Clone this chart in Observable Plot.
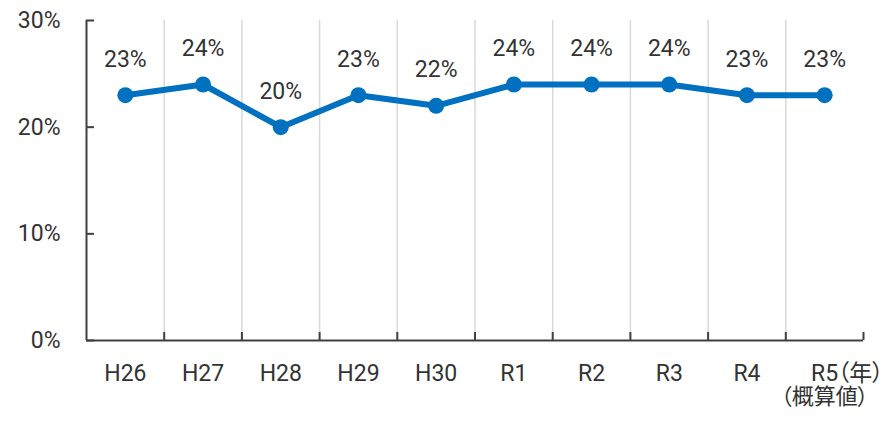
<!DOCTYPE html>
<html><head><meta charset="utf-8">
<script src="https://cdn.jsdelivr.net/npm/d3@7"></script>
<script src="https://cdn.jsdelivr.net/npm/@observablehq/plot@0.6"></script>
<style>html,body{margin:0;padding:0;background:#fff}#chart svg{display:block}#chart svg text{font-feature-settings:"palt"}</style>
</head><body><div id="chart"></div>
<script>
const categories = ["H26","H27","H28","H29","H30","R1","R2","R3","R4","R5"];
const values = [23,24,20,23,22,24,24,24,23,23];
const yTicks = [0,10,20,30];
const unitLabel = "（年）";
const noteLabel = "（概算値）";

const data = categories.map((c, i) => ({cat: c, pos: i + 0.5, value: values[i]}));
const boundaries = d3.range(categories.length + 1);
const centers = data.map(d => d.pos);
const last = categories.length - 0.5;
const font = "Roboto, 'Liberation Sans', 'Noto Sans CJK JP', sans-serif";
const cjk = "'Noto Sans CJK JP', sans-serif";
const ink = "#333333";
const axisInk = "#404040";
const blue = "#0070C0";

const chart = Plot.plot({
  width: 892,
  height: 421,
  marginLeft: 86,
  marginRight: 29,
  marginTop: 20,
  marginBottom: 81,
  style: {fontFamily: font, fontSize: "23px", color: ink, background: "#fff"},
  x: {type: "linear", domain: [0, categories.length], label: null},
  y: {domain: [0, 30], label: null},
  marks: [
    Plot.ruleX(boundaries.slice(1, -1), {y1: 0, y2: 30, stroke: "#d9d9d9", strokeWidth: 1.5}),
    Plot.ruleX([0], {y1: 0, y2: 30, stroke: axisInk, strokeWidth: 2}),
    Plot.ruleY([0], {stroke: axisInk, strokeWidth: 2}),
    Plot.ruleX(boundaries.slice(1), {y1: 0, y2: 0, insetTop: -8, stroke: axisInk, strokeWidth: 2}),
    Plot.ruleY(yTicks, {x1: 0, x2: 0, insetRight: -8, stroke: axisInk, strokeWidth: 2}),
    Plot.axisY(yTicks, {tickSize: 0, tickPadding: 26, tickFormat: d => d + "%", fontSize: 23, fill: ink, label: null}),
    Plot.axisX(centers, {tickSize: 0, tickPadding: 24, tickFormat: d => categories[Math.floor(d)], fontSize: 23, fill: ink, label: null}),
    Plot.line(data, {x: "pos", y: "value", stroke: blue, strokeWidth: 6}),
    Plot.dot(data, {x: "pos", y: "value", r: 8, fill: blue}),
    Plot.text(data, {x: "pos", y: "value", text: d => d.value + "%", dy: -36, fontSize: 23, fill: ink}),
    Plot.text([unitLabel], {x: () => last, y: () => 0, text: d => d, textAnchor: "start", dx: 13, dy: 33, fontSize: 23, fontFamily: cjk, fill: ink}),
    Plot.text([noteLabel], {x: () => last, y: () => 0, text: d => d, dy: 56, fontSize: 22, fontFamily: cjk, fill: ink})
  ]
});
document.getElementById("chart").appendChild(chart);
</script>
</body></html>
